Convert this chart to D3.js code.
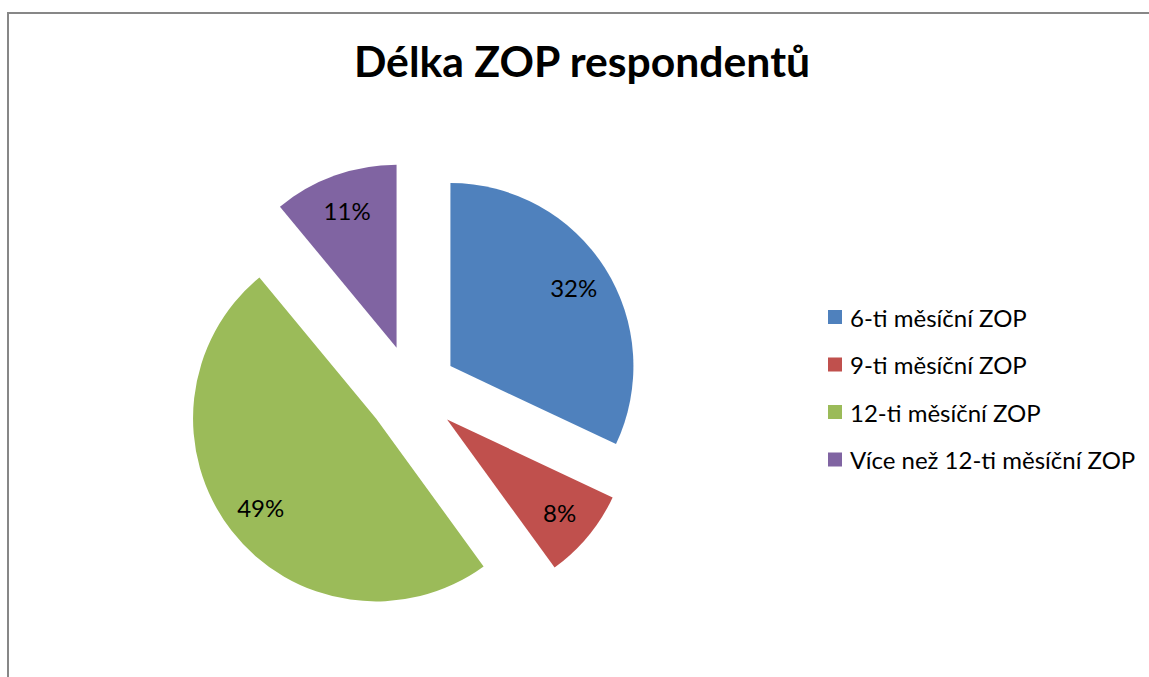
<!DOCTYPE html>
<html>
<head>
<meta charset="utf-8">
<script src="https://cdn.jsdelivr.net/npm/d3@7"></script>
<style>
  body { margin: 0; background: #fff; }
  svg text { font-family: Lato, "Open Sans", sans-serif; fill: #000; }
</style>
</head>
<body>
<svg id="chart"></svg>
<script>
const width = 1149, height = 677;
const title = "Délka ZOP respondentů";
const categories = ["6-ti měsíční ZOP", "9-ti měsíční ZOP", "12-ti měsíční ZOP", "Více než 12-ti měsíční ZOP"];
const values = [32, 8, 49, 11];
const colors = ["#4F81BD", "#C0504D", "#9BBB59", "#8064A2"];

const cx = 412, cy = 390.5, radius = 183,
  explode = 45.5, labelRadius = 146;

const svg = d3.select("#chart").attr("width", width).attr("height", height);

// chart area frame (cut off at the right and bottom)
svg.append("rect")
  .attr("x", 8).attr("y", 13)
  .attr("width", width + 20).attr("height", height + 20)
  .attr("fill", "none")
  .attr("stroke", "#878787")
  .attr("stroke-width", 2);

svg.append("text")
  .attr("x", 582).attr("y", 77)
  .attr("text-anchor", "middle")
  .attr("font-size", 42.7)
  .attr("font-weight", "bold")
  .text(title);

var data = categories.map(function (c, i) {
  return { name: c, value: values[i], color: colors[i] };
});

var pie = d3.pie().sort(null).value(function (d) { return d.value; });
var arcs = pie(data);
var arc = d3.arc().innerRadius(0).outerRadius(radius);

var face = svg.append("g").attr("transform", "translate(" + cx + "," + cy + ")");

var slices = face.selectAll(".slice")
  .data(arcs)
  .enter()
  .append("g")
  .attr("class", "slice")
  .attr("transform", function (d) {
    var a = (d.startAngle + d.endAngle) / 2;
    return "translate(" + explode * Math.sin(a) + "," + -explode * Math.cos(a) + ")";
  });

slices.append("path")
  .attr("d", arc)
  .attr("fill", function (d) { return d.data.color; });

slices.append("text")
  .attr("text-anchor", "middle")
  .attr("dominant-baseline", "central")
  .attr("font-size", 24)
  .attr("x", function (d) {
    return labelRadius * Math.sin((d.startAngle + d.endAngle) / 2);
  })
  .attr("y", function (d) {
    return -labelRadius * Math.cos((d.startAngle + d.endAngle) / 2);
  })
  .text(function (d) { return d.data.value + "%"; });

// legend
var legendY = d3.scalePoint().domain(categories).range([317, 459.5]);

var legend = svg.append("g").attr("class", "legend")
  .selectAll("g")
  .data(data)
  .enter()
  .append("g")
  .attr("transform", function (d) { return "translate(828," + legendY(d.name) + ")"; });

legend.append("rect")
  .attr("x", 0).attr("y", -7)
  .attr("width", 14).attr("height", 14)
  .attr("fill", function (d) { return d.color; });

legend.append("text")
  .attr("x", 22)
  .attr("y", 0)
  .attr("dominant-baseline", "central")
  .attr("font-size", 24)
  .text(function (d) { return d.name; });
</script>
</body>
</html>
